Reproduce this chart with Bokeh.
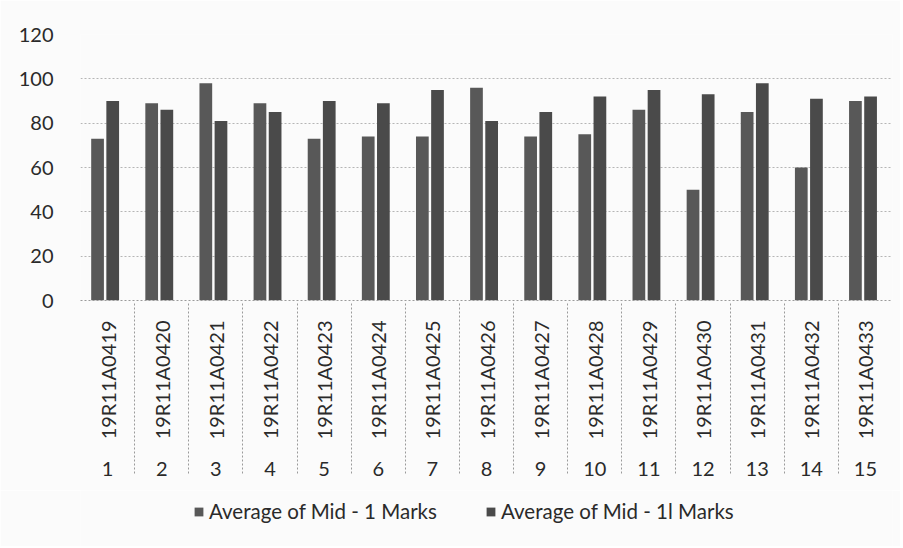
import math
from bokeh.plotting import figure
from bokeh.layouts import column
from bokeh.models import (FactorRange, ColumnDataSource, Legend, LegendItem,
                          SingleIntervalTicker, Range1d)
from bokeh.transform import dodge
from bokeh.embed import file_html
from bokeh.resources import INLINE

serial = [str(i) for i in range(1, 16)]
roll_numbers = ["19R11A0419", "19R11A0420", "19R11A0421", "19R11A0422", "19R11A0423",
                "19R11A0424", "19R11A0425", "19R11A0426", "19R11A0427", "19R11A0428",
                "19R11A0429", "19R11A0430", "19R11A0431", "19R11A0432", "19R11A0433"]
mid1 = [73, 89, 98, 89, 73, 74, 74, 96, 74, 75, 86, 50, 85, 60, 90]
mid2 = [90, 86, 81, 85, 90, 89, 95, 81, 85, 92, 95, 93, 98, 91, 92]
series_names = ["Average of Mid - 1 Marks", "Average of Mid - 1l Marks"]
series_colors = ["#585858", "#4a4a4a"]

FONT = "Lato"
TXT = "#2a2a2a"
BG = "#fbfbfb"

factors = list(zip(serial, roll_numbers))
src = ColumnDataSource(dict(x=factors, mid1=mid1, mid2=mid2))

p = figure(x_range=FactorRange(*factors, group_padding=0, factor_padding=0),
           y_range=Range1d(0, 120), width=900, height=490,
           output_backend="svg", toolbar_location=None,
           min_border_left=80, min_border_top=34, min_border_right=8,
           min_border_bottom=190)
p.background_fill_color = BG
p.border_fill_color = BG
p.outline_line_color = None

p.vbar(x=dodge("x", -0.185, range=p.x_range), top="mid1", width=0.235,
       source=src, fill_color=series_colors[0], line_color=None)
p.vbar(x=dodge("x", 0.095, range=p.x_range), top="mid2", width=0.235,
       source=src, fill_color=series_colors[1], line_color=None)

# y axis
p.yaxis.ticker = SingleIntervalTicker(interval=20)
p.yaxis.axis_line_color = None
p.yaxis.major_tick_line_color = None
p.yaxis.minor_tick_line_color = None
p.yaxis.major_tick_out = 0
p.yaxis.major_tick_in = 0
p.yaxis.major_label_standoff = 23
p.yaxis.major_label_text_font = FONT
p.yaxis.major_label_text_font_size = "20px"
p.yaxis.major_label_text_color = TXT

p.ygrid.ticker = SingleIntervalTicker(interval=20)
p.ygrid.grid_line_color = "#b5b5b5"
p.ygrid.grid_line_dash = "2 2"
p.xgrid.grid_line_color = None

# x axis (two levels)
xa = p.xaxis[0]
xa.axis_line_color = "#9a9a9a"
xa.axis_line_dash = "2 2"
xa.major_tick_line_color = None
xa.minor_tick_line_color = None
xa.major_tick_out = 0
xa.major_label_orientation = math.pi / 2
xa.major_label_standoff = 20
xa.major_label_text_font = FONT
xa.major_label_text_font_size = "20px"
xa.major_label_text_color = TXT
xa.group_text_font = FONT
xa.group_text_font_size = "20px"
xa.group_text_font_style = "normal"
xa.group_text_color = TXT
xa.group_label_orientation = "horizontal"
xa.separator_line_color = "#9a9a9a"
xa.separator_line_width = 1
xa.separator_line_dash = "2 2"

# legend strip underneath (zero-size proxy glyphs only supply the legend keys)
pl = figure(width=900, height=56, output_backend="svg", toolbar_location=None,
            x_range=Range1d(0, 1), y_range=Range1d(0, 1),
            x_axis_location=None, y_axis_location=None,
            min_border_left=0, min_border_right=0, min_border_top=0,
            min_border_bottom=0)
pl.background_fill_color = BG
pl.border_fill_color = BG
pl.outline_line_color = None
pl.grid.visible = False
k1 = pl.vbar(x=0, top=0, bottom=0, width=0,
             fill_color=series_colors[0], line_color=None)
k2 = pl.vbar(x=0, top=0, bottom=0, width=0,
             fill_color=series_colors[1], line_color=None)
legend = Legend(items=[LegendItem(label=series_names[0], renderers=[k1]),
                       LegendItem(label=series_names[1], renderers=[k2])],
                orientation="horizontal", location=(113, 23),
                background_fill_alpha=0, border_line_color=None,
                label_text_font=FONT, label_text_font_size="20.5px",
                label_text_color=TXT, glyph_width=11, glyph_height=11,
                label_standoff=5, label_width=260, spacing=16, padding=5,
                margin=0)
pl.add_layout(legend, "center")

open("out.html", "w").write(file_html(column(p, pl, spacing=0), INLINE))
